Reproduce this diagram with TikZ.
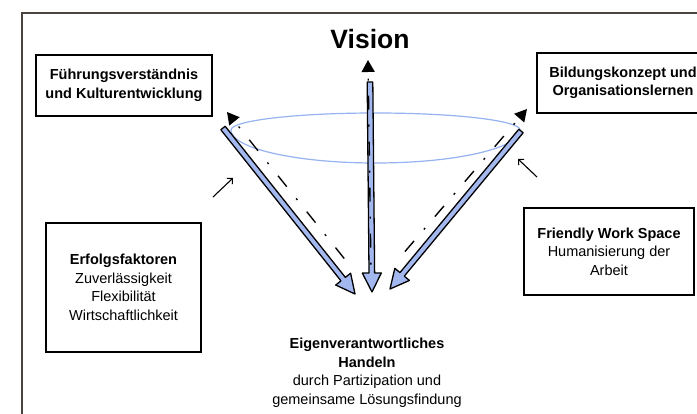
\documentclass[tikz,border=0pt]{standalone}
\usepackage{fontspec}
\setmainfont{Liberation Sans}
\usetikzlibrary{calc,arrows.meta}

\definecolor{framecol}{RGB}{74,68,64}
\definecolor{arrowblue}{RGB}{164,184,240}
\definecolor{ringblue}{RGB}{150,178,240}

% geometry of the broad blue arrows
\def\arrShaft{2.8pt}
\def\arrHead{9.5pt}
\def\arrLen{19pt}

% broad outlined arrow from #1 to #2
\newcommand\fatarrow[2]{%
  \coordinate (hb) at ($(#2)!\arrLen!(#1)$);
  \filldraw[fatarrowstyle]
    ($(#1)!\arrShaft!90:(#2)$) -- ($(hb)!\arrShaft!90:(#2)$) --
    ($(hb)!\arrHead!90:(#2)$) -- (#2) --
    ($(hb)!\arrHead!-90:(#2)$) -- ($(hb)!\arrShaft!-90:(#2)$) --
    ($(#1)!\arrShaft!-90:(#2)$) -- cycle;
}

\tikzset{
  fatarrowstyle/.style={fill=arrowblue, draw=black, line width=1.3pt, line join=round},
  boxnode/.style={draw=black, line width=1.3pt, inner sep=0pt, align=center,
    font=\fontsize{14.5}{18.5}\selectfont},
  plaintext/.style={inner sep=0pt, align=center, font=\fontsize{14.5}{18.5}\selectfont},
  dashdotline/.style={line width=1.4pt,
    dash pattern=on 14pt off 15pt on 2pt off 15pt, dash phase=22pt,
    {Triangle[length=12pt,width=13pt]}-},
  smallarrow/.style={line width=1.1pt, -{Straight Barb[length=4pt,width=8pt]}},
}

\begin{document}
\begin{tikzpicture}[x=1pt, y=-1pt]
\useasboundingbox (0,0) rectangle (697,414);
\fill[white] (0,0) rectangle (697,414);

% outer frame (runs past the right and bottom page edges)
\draw[framecol, line width=1.3pt] (22,440) -- (22,13) -- (730,13);

% title
\node[anchor=base, inner sep=0pt, font=\fontsize{26.5}{30}\selectfont\bfseries] (vision) at (370,49) {Vision};

% text boxes
\node[boxnode, minimum width=176pt, minimum height=61pt] (fuehrung) at (124,85.5)
  {\bfseries Führungsverständnis\\\bfseries und Kulturentwicklung};
\node[boxnode, minimum width=172pt, minimum height=60pt] (bildung) at (623,83)
  {\bfseries Bildungskonzept und\\\bfseries Organisationslernen};
\node[boxnode, minimum width=155pt, minimum height=129pt] (erfolg) at (123.5,287.5)
  {\bfseries Erfolgsfaktoren\\Zuverlässigkeit\\Flexibilität\\Wirtschaftlichkeit};
\node[boxnode, minimum width=170pt, minimum height=87pt] (workspace) at (609,251.5)
  {\bfseries Friendly Work Space\\Humanisierung der\\Arbeit};

% goal text below the arrows
\node[plaintext] (handeln) at (367,373)
  {\bfseries Eigenverantwortliches\\\bfseries Handeln\\durch Partizipation und\\gemeinsame Lösungsfindung};

% ring of the cone
\draw[ringblue, line width=1.2pt] (231,130)
  arc[start angle=180, end angle=0, x radius=144.5pt, y radius=17pt]
  arc[start angle=0, end angle=-180, x radius=144.5pt, y radius=33pt];

% anchor points of the arrows
\coordinate (lTop) at (223,128);  \coordinate (lTip) at (355,294);
\coordinate (cTop) at (370,82);   \coordinate (cTip) at (372,292);
\coordinate (rTop) at (521,131);  \coordinate (rTip) at (390,289);

\coordinate (lOut) at (227,112);  \coordinate (lIn) at (347,262);
\coordinate (cOut) at (368,60);   \coordinate (cIn) at (371,270);
\coordinate (rOut) at (527,109);  \coordinate (rIn) at (402,255);

\coordinate (lSmallA) at (213,197); \coordinate (lSmallB) at (233,178);
\coordinate (rSmallA) at (537,177); \coordinate (rSmallB) at (518,159);

% broad arrows converging on the goal
\fatarrow{lTop}{lTip}
\fatarrow{cTop}{cTip}
\fatarrow{rTop}{rTip}

% dash-dotted arrows pointing outwards
\draw[dashdotline] (lOut) -- (lIn);
\draw[dashdotline] (cOut) -- (cIn);
\draw[dashdotline] (rOut) -- (rIn);

% small pointers towards the cone
\draw[smallarrow] (lSmallA) -- (lSmallB);
\draw[smallarrow] (rSmallA) -- (rSmallB);
\end{tikzpicture}
\end{document}
